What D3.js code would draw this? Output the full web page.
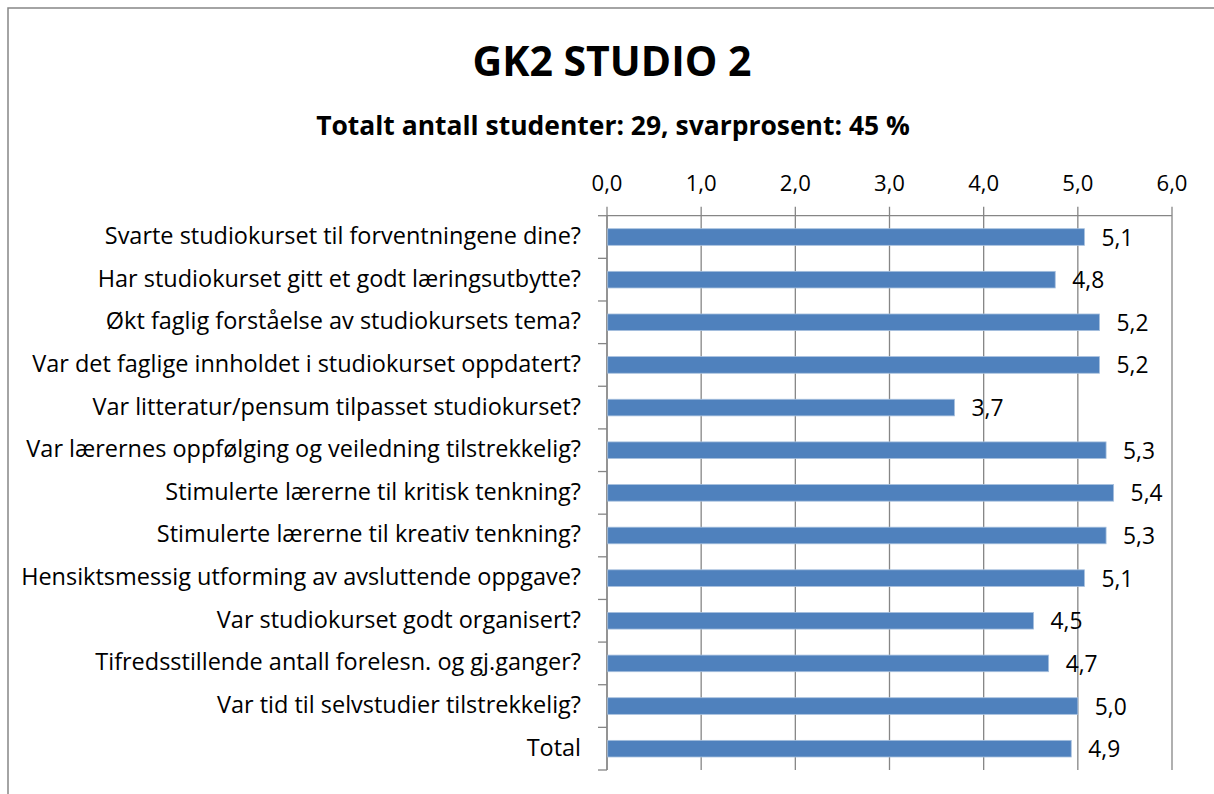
<!DOCTYPE html>
<html><head><meta charset="utf-8">
<script src="https://cdn.jsdelivr.net/npm/d3@7"></script>
<style>body{margin:0;background:#fff}svg{display:block}text{font-family:"Open Sans",Lato,sans-serif}</style>
</head><body>
<script>
const categories = [
  "Svarte studiokurset til forventningene dine?",
  "Har studiokurset gitt et godt læringsutbytte?",
  "Økt faglig forståelse av studiokursets tema?",
  "Var det faglige innholdet i studiokurset oppdatert?",
  "Var litteratur/pensum tilpasset studiokurset?",
  "Var lærernes oppfølging og veiledning tilstrekkelig?",
  "Stimulerte lærerne til kritisk tenkning?",
  "Stimulerte lærerne til kreativ tenkning?",
  "Hensiktsmessig utforming av avsluttende oppgave?",
  "Var studiokurset godt organisert?",
  "Tifredsstillende antall forelesn. og gj.ganger?",
  "Var tid til selvstudier tilstrekkelig?",
  "Total"
];
const values = [5.07, 4.76, 5.23, 5.23, 3.69, 5.30, 5.38, 5.30, 5.07, 4.53, 4.69, 5.00, 4.93];
const xTicks = [0, 1, 2, 3, 4, 5, 6];
const title = "GK2 STUDIO 2";
const subtitle = "Totalt antall studenter: 29, svarprosent: 45 %";

const W = 1214, H = 794;
const svg = d3.select("body").append("svg").attr("width", W).attr("height", H);
const fmt = v => d3.format(".1f")(v).replace(".", ",");

function fit(sel, base, target) {
  let maxW = 0;
  sel.each(function () { maxW = Math.max(maxW, this.getComputedTextLength()); });
  sel.attr("font-size", base * target / maxW);
}

svg.append("rect").attr("x", 8).attr("y", 8).attr("width", W + 20).attr("height", H + 20)
  .attr("fill", "none").attr("stroke", "#868686").attr("stroke-width", 1.5);

const t = svg.append("text").attr("x", 612).attr("y", 76).attr("text-anchor", "middle")
  .attr("font-size", 34).attr("font-weight", "bold").attr("fill", "#000").text(title);
fit(t, 34, 279);
const st = svg.append("text").attr("x", 613).attr("y", 135).attr("text-anchor", "middle")
  .attr("font-size", 22).attr("font-weight", "bold").attr("fill", "#000").text(subtitle);
fit(st, 22, 594);

const plotTop = 215.7, plotBottom = 770;
const x = d3.scaleLinear().domain([0, 6]).range([607, 1172]);
const y = d3.scaleBand().domain(categories).range([plotTop, plotBottom]).padding(0);
const gridColor = "#868686";

svg.append("g").selectAll("line").data(xTicks).join("line")
  .attr("x1", d => x(d)).attr("x2", d => x(d))
  .attr("y1", plotTop - 9).attr("y2", plotBottom)
  .attr("stroke", gridColor).attr("stroke-width", 1.3);
svg.append("line").attr("x1", x(0)).attr("x2", x(6)).attr("y1", plotTop).attr("y2", plotTop)
  .attr("stroke", gridColor).attr("stroke-width", 1.3);
const tk = svg.append("g").selectAll("text").data(xTicks).join("text")
  .attr("x", d => x(d)).attr("y", 191).attr("text-anchor", "middle")
  .attr("font-size", 20).attr("fill", "#000").text(d => fmt(d));
fit(tk, 20, 31);

svg.append("line").attr("x1", x(0)).attr("x2", x(0)).attr("y1", plotTop).attr("y2", plotBottom)
  .attr("stroke", gridColor).attr("stroke-width", 1.3);
const bounds = categories.map(c => y(c)).concat([plotBottom]);
svg.append("g").selectAll("line").data(bounds).join("line")
  .attr("x1", x(0) - 9).attr("x2", x(0)).attr("y1", d => d).attr("y2", d => d)
  .attr("stroke", gridColor).attr("stroke-width", 1.3);

const bh = y.bandwidth() * 0.39;
svg.append("g").selectAll("rect").data(values).join("rect")
  .attr("x", x(0) + 0.7).attr("y", (d, i) => y(categories[i]) + (y.bandwidth() - bh) / 2)
  .attr("width", d => x(d) - x(0) - 0.7).attr("height", bh)
  .attr("fill", "#4F81BD").attr("stroke", "#A7C0DE").attr("stroke-width", 0.8);

const vl = svg.append("g").selectAll("text").data(values).join("text")
  .attr("x", d => x(d) + 17).attr("y", (d, i) => y(categories[i]) + y.bandwidth() / 2 + 8.5)
  .attr("font-size", 20).attr("fill", "#000").text(d => fmt(d));
fit(vl, 20, 32);

const cl = svg.append("g").selectAll("text").data(categories).join("text")
  .attr("x", 581).attr("y", c => y(c) + y.bandwidth() / 2 + 7)
  .attr("text-anchor", "end").attr("font-size", 20).attr("fill", "#000").text(c => c);
fit(cl, 20, 560);
</script>
</body></html>
